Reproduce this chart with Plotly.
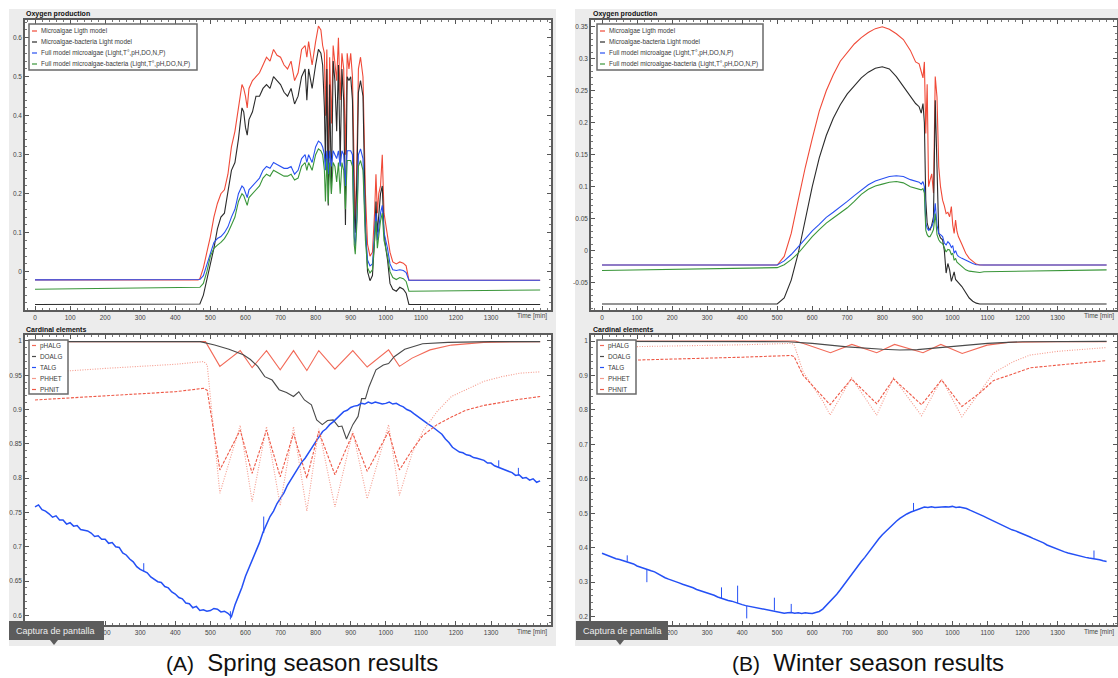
import plotly.graph_objects as go

W, H = 1118, 678

# ---------------- Spring: oxygen production ----------------
spring_o2_t = [
    0, 465, 470, 480, 490, 500, 510, 520, 530, 540,
    550, 560, 570, 580, 590, 595, 600, 605, 610, 620,
    630, 640, 650, 660, 670, 680, 690, 700, 710, 720,
    730, 740, 750, 760, 770, 775, 780, 790, 800, 808,
    815, 820, 825, 828, 832, 836, 840, 845, 850, 855,
    860, 865, 870, 875, 880, 885, 890, 895, 900, 905,
    910, 913, 918, 922, 928, 935, 942, 948, 955, 962,
    968, 972, 976, 980, 985, 990, 995, 1000, 1005, 1012,
    1020, 1030, 1040, 1050, 1058, 1066, 1440,
]
spring_o2_light = [
    -0.021, -0.021, -0.018, 0.01, 0.05, 0.09, 0.14, 0.175, 0.2, 0.21,
    0.25, 0.32, 0.36, 0.42, 0.48, 0.47, 0.45, 0.42, 0.47, 0.49,
    0.5, 0.51, 0.53, 0.55, 0.54, 0.57, 0.555, 0.55, 0.53, 0.52,
    0.54, 0.49, 0.51, 0.57, 0.58, 0.55, 0.59, 0.53, 0.59, 0.63,
    0.62, 0.58, 0.56, 0.40, 0.57, 0.25, 0.55, 0.38, 0.58, 0.53,
    0.49, 0.60, 0.44, 0.56, 0.52, 0.30, 0.56, 0.52, 0.56, 0.50,
    0.20, 0.11, 0.30, 0.52, 0.55, 0.50, 0.20, 0.07, 0.04, 0.05,
    0.15, 0.25, 0.15, 0.20, 0.22, 0.30, 0.15, 0.12, 0.10, 0.05,
    0.025, 0.02, 0.025, 0.022, 0.015, -0.022, -0.022,
]
spring_o2_light_bact = [
    -0.084, -0.084, -0.083, -0.06, -0.02, 0.02, 0.06, 0.11, 0.14, 0.15,
    0.21, 0.26, 0.28, 0.34, 0.42, 0.41, 0.37, 0.35, 0.39, 0.41,
    0.45, 0.45, 0.47, 0.48, 0.47, 0.50, 0.49, 0.48, 0.46, 0.45,
    0.47, 0.43, 0.45, 0.50, 0.52, 0.44, 0.52, 0.47, 0.53, 0.57,
    0.56, 0.53, 0.42, 0.28, 0.52, 0.17, 0.48, 0.20, 0.54, 0.49,
    0.36, 0.53, 0.28, 0.52, 0.44, 0.12, 0.50, 0.49, 0.50, 0.44,
    0.15, 0.10, 0.25, 0.46, 0.49, 0.45, 0.12, 0.0, -0.023, -0.01,
    0.08, 0.18, 0.10, 0.15, 0.20, 0.22, 0.10, 0.06, 0.03, -0.03,
    -0.045, -0.05, -0.04, -0.045, -0.055, -0.084, -0.084,
]
spring_o2_full = [
    -0.021, -0.021, -0.02, -0.01, 0.02, 0.05, 0.075, 0.085, 0.09, 0.10,
    0.115, 0.14, 0.16, 0.20, 0.22, 0.215, 0.20, 0.19, 0.21, 0.22,
    0.23, 0.24, 0.26, 0.27, 0.265, 0.28, 0.275, 0.27, 0.265, 0.265,
    0.27, 0.25, 0.26, 0.29, 0.30, 0.28, 0.30, 0.28, 0.32, 0.335,
    0.33, 0.32, 0.30, 0.26, 0.31, 0.25, 0.31, 0.27, 0.31, 0.30,
    0.29, 0.31, 0.27, 0.31, 0.30, 0.22, 0.31, 0.31, 0.31, 0.30,
    0.09, 0.065, 0.15, 0.30, 0.315, 0.29, 0.10, 0.03, 0.015, 0.02,
    0.09, 0.15, 0.08, 0.12, 0.15, 0.17, 0.10, 0.08, 0.06, 0.02,
    0.005, 0.003, 0.005, 0.003, -0.002, -0.022, -0.022,
]
spring_o2_full_bact = [
    -0.045, -0.041, -0.04, -0.03, 0.0, 0.04, 0.06, 0.068, 0.075, 0.085,
    0.10, 0.12, 0.14, 0.18, 0.20, 0.195, 0.18, 0.17, 0.19, 0.20,
    0.21, 0.22, 0.24, 0.25, 0.245, 0.26, 0.255, 0.25, 0.245, 0.245,
    0.25, 0.235, 0.24, 0.27, 0.28, 0.26, 0.28, 0.26, 0.30, 0.315,
    0.31, 0.30, 0.26, 0.18, 0.29, 0.175, 0.28, 0.20, 0.28, 0.27,
    0.23, 0.28, 0.20, 0.28, 0.26, 0.16, 0.285, 0.285, 0.285, 0.27,
    0.07, 0.045, 0.13, 0.27, 0.285, 0.26, 0.08, 0.01, -0.003, 0.005,
    0.07, 0.13, 0.06, 0.10, 0.13, 0.15, 0.08, 0.06, 0.04, 0.0,
    -0.015, -0.02, -0.015, -0.018, -0.025, -0.05, -0.047,
]

# ---------------- Winter: oxygen production ----------------
winter_o2_t = [
    0, 500, 520, 540, 560, 580, 600, 620, 640, 660,
    680, 700, 720, 740, 760, 780, 800, 820, 840, 860,
    880, 895, 905, 911, 916, 920, 924, 928, 932, 936,
    941, 946, 951, 956, 961, 966, 972, 977, 982, 987,
    992, 997, 1001, 1005, 1009, 1013, 1017, 1027, 1038, 1048,
    1058, 1068, 1078, 1090, 1440,
]
winter_o2_light = [
    -0.0224, -0.0224, -0.009, 0.027, 0.079, 0.13, 0.175, 0.218, 0.25, 0.275,
    0.296, 0.31, 0.323, 0.333, 0.341, 0.347, 0.35, 0.346, 0.339, 0.33,
    0.313, 0.295, 0.292, 0.28, 0.27, 0.295, 0.183, 0.26, 0.10, 0.11,
    0.12, 0.09, 0.272, 0.24, 0.131, 0.10, 0.079, 0.07, 0.058, 0.06,
    0.053, 0.069, 0.04, 0.027, 0.048, 0.03, 0.022, 0.01, -0.004, -0.012,
    -0.017, -0.021, -0.0224, -0.0224, -0.0224,
]
winter_o2_light_bact = [
    -0.0833, -0.0833, -0.074, -0.046, -0.004, 0.05, 0.10, 0.145, 0.18, 0.207,
    0.228, 0.245, 0.258, 0.27, 0.279, 0.285, 0.2875, 0.284, 0.272, 0.256,
    0.24, 0.23, 0.225, 0.215, 0.23, 0.20, 0.079, 0.043, 0.035, 0.032,
    0.04, 0.053, 0.235, 0.11, 0.027, 0.02, 0.017, 0.0, -0.035, -0.02,
    -0.03, -0.048, -0.04, -0.033, -0.045, -0.048, -0.05, -0.056, -0.066, -0.074,
    -0.079, -0.082, -0.0833, -0.0833, -0.0833,
]
winter_o2_full = [
    -0.0224, -0.0224, -0.016, -0.006, 0.006, 0.018, 0.031, 0.041, 0.052, 0.060,
    0.068, 0.077, 0.086, 0.095, 0.103, 0.109, 0.113, 0.116, 0.117, 0.116,
    0.111, 0.108, 0.107, 0.104, 0.108, 0.10, 0.043, 0.035, 0.032, 0.035,
    0.0375, 0.045, 0.074, 0.04, 0.027, 0.025, 0.022, 0.012, 0.009, 0.014,
    0.011, 0.005, 0.008, -0.004, 0.0, -0.006, -0.009, -0.012, -0.015, -0.018,
    -0.02, -0.022, -0.0224, -0.0224, -0.0224,
]
winter_o2_full_bact = [
    -0.031, -0.0265, -0.022, -0.014, -0.004, 0.009, 0.022, 0.033, 0.043, 0.051,
    0.059, 0.067, 0.077, 0.088, 0.096, 0.101, 0.104, 0.107, 0.108, 0.106,
    0.10, 0.098, 0.097, 0.095, 0.097, 0.09, 0.032, 0.025, 0.022, 0.022,
    0.027, 0.033, 0.058, 0.025, 0.017, 0.013, 0.011, 0.003, -0.002, 0.002,
    0.001, -0.006, -0.004, -0.015, -0.012, -0.018, -0.02, -0.025, -0.03, -0.032,
    -0.033, -0.034, -0.034, -0.033, -0.030,
]

# ---------------- Spring: cardinal elements ----------------
spring_phalg_t = [0, 486, 527, 585, 619, 660, 699, 737, 775, 809,
                  855, 906, 947, 1008, 1039, 1075, 1126, 1187, 1279, 1440]
spring_phalg = [0.999, 0.999, 0.963, 0.986, 0.961, 0.986, 0.958, 0.986, 0.957, 0.986,
                0.959, 0.986, 0.962, 0.987, 0.963, 0.975, 0.987, 0.994, 0.998, 0.999]

spring_doalg_t = [0, 471, 512, 553, 594, 614, 635, 655, 676, 696,
                  717, 737, 752, 768, 788, 803, 819, 834, 850, 865,
                  875, 888, 906, 921, 931, 942, 952, 972, 993, 1008,
                  1024, 1054, 1105, 1177, 1300, 1440]
spring_doalg = [0.999, 0.999, 0.994, 0.988, 0.98, 0.973, 0.963, 0.948, 0.943, 0.929,
                0.925, 0.919, 0.926, 0.914, 0.907, 0.885, 0.878, 0.884, 0.885, 0.875,
                0.876, 0.857, 0.878, 0.89, 0.916, 0.916, 0.933, 0.958, 0.965, 0.967,
                0.977, 0.988, 0.996, 0.998, 0.999, 0.999]

talg_t = list(range(0, 1441, 10))
spring_talg = [
    0.758, 0.761, 0.754, 0.752, 0.748, 0.743, 0.745, 0.739, 0.739, 0.733,
    0.735, 0.730, 0.731, 0.725, 0.724, 0.723, 0.720, 0.715, 0.716, 0.711,
    0.711, 0.705, 0.706, 0.700, 0.699, 0.691, 0.688, 0.682, 0.678, 0.671,
    0.667, 0.664, 0.662, 0.656, 0.653, 0.649, 0.648, 0.642, 0.640, 0.634,
    0.631, 0.626, 0.624, 0.618, 0.617, 0.611, 0.613, 0.607, 0.608, 0.606,
    0.607, 0.610, 0.609, 0.605, 0.606, 0.603, 0.598, 0.615, 0.628, 0.641,
    0.657, 0.669, 0.683, 0.693, 0.706, 0.721, 0.733, 0.744, 0.752, 0.763,
    0.771, 0.779, 0.790, 0.798, 0.808, 0.814, 0.823, 0.829, 0.838, 0.845,
    0.853, 0.860, 0.868, 0.872, 0.878, 0.882, 0.887, 0.893, 0.897, 0.899,
    0.903, 0.905, 0.906, 0.909, 0.908, 0.911, 0.909, 0.911, 0.910, 0.908,
    0.909, 0.911, 0.908, 0.909, 0.906, 0.904, 0.900, 0.898, 0.894, 0.890,
    0.887, 0.882, 0.879, 0.876, 0.872, 0.867, 0.864, 0.857, 0.852, 0.845,
    0.842, 0.838, 0.837, 0.834, 0.833, 0.830, 0.829, 0.828, 0.826, 0.822,
    0.822, 0.818, 0.816, 0.813, 0.812, 0.809, 0.808, 0.804, 0.805, 0.800,
    0.801, 0.797, 0.799, 0.794, 0.796,
]
spring_talg_spike_t = [310, 557, 652, 1322, 1378]
spring_talg_spike_lo = [0.664, 0.594, 0.72, 0.815, 0.804]
spring_talg_spike_hi = [0.676, 0.606, 0.744, 0.826, 0.815]

spring_ph_t = [0, 100, 200, 300, 400, 481, 491, 527, 585, 619,
               660, 699, 737, 775, 809, 855, 906, 947, 1008, 1039,
               1075, 1105, 1146, 1187, 1228, 1279, 1331, 1382, 1440]
spring_phhet = [0.953, 0.957, 0.96, 0.963, 0.966, 0.97, 0.965, 0.778, 0.877, 0.766,
                0.875, 0.76, 0.875, 0.752, 0.872, 0.758, 0.868, 0.77, 0.878, 0.775,
                0.836, 0.868, 0.897, 0.919, 0.929, 0.941, 0.948, 0.953, 0.955]
spring_phnit = [0.914, 0.917, 0.92, 0.923, 0.926, 0.931, 0.928, 0.812, 0.87, 0.807,
                0.87, 0.802, 0.865, 0.80, 0.868, 0.805, 0.865, 0.81, 0.868, 0.812,
                0.841, 0.862, 0.878, 0.889, 0.899, 0.906, 0.911, 0.915, 0.919]

# ---------------- Winter: cardinal elements ----------------
winter_phalg_t = [0, 530, 551, 575, 652, 713, 784, 835, 916, 967,
                  1028, 1099, 1160, 1300, 1440]
winter_phalg = [0.999, 0.999, 1.0, 0.993, 0.966, 0.99, 0.966, 0.99, 0.966, 0.99,
                0.964, 0.988, 0.996, 0.998, 0.998]

winter_doalg_t = [0, 530, 600, 700, 800, 850, 900, 1000, 1100, 1200, 1440]
winter_doalg = [0.999, 0.998, 0.993, 0.983, 0.976, 0.974, 0.975, 0.984, 0.993, 0.998, 0.999]

winter_talg = [
    0.384, 0.380, 0.376, 0.371, 0.368, 0.366, 0.363, 0.360, 0.357, 0.353,
    0.347, 0.343, 0.340, 0.337, 0.333, 0.330, 0.324, 0.318, 0.313, 0.309,
    0.306, 0.302, 0.298, 0.294, 0.291, 0.287, 0.284, 0.279, 0.276, 0.272,
    0.270, 0.267, 0.262, 0.257, 0.253, 0.250, 0.247, 0.245, 0.241, 0.238,
    0.235, 0.232, 0.230, 0.228, 0.226, 0.224, 0.222, 0.220, 0.219, 0.218,
    0.216, 0.213, 0.210, 0.211, 0.212, 0.210, 0.211, 0.209, 0.211, 0.210,
    0.209, 0.212, 0.215, 0.222, 0.232, 0.242, 0.253, 0.265, 0.278, 0.292,
    0.305, 0.318, 0.331, 0.345, 0.360, 0.372, 0.386, 0.399, 0.412, 0.426,
    0.438, 0.448, 0.458, 0.468, 0.477, 0.485, 0.492, 0.498, 0.503, 0.507,
    0.511, 0.516, 0.518, 0.517, 0.519, 0.517, 0.518, 0.517, 0.519, 0.518,
    0.520, 0.517, 0.518, 0.516, 0.514, 0.509, 0.505, 0.500, 0.496, 0.491,
    0.486, 0.481, 0.476, 0.471, 0.466, 0.461, 0.456, 0.452, 0.449, 0.445,
    0.442, 0.437, 0.432, 0.427, 0.423, 0.418, 0.414, 0.408, 0.404, 0.399,
    0.394, 0.391, 0.388, 0.385, 0.382, 0.379, 0.376, 0.374, 0.372, 0.370,
    0.369, 0.367, 0.365, 0.362, 0.360,
]
winter_talg_spike_t = [72, 128, 341, 387, 413, 492, 540, 889, 1404]
winter_talg_spike_lo = [0.36, 0.30, 0.253, 0.239, 0.195, 0.218, 0.211, 0.507, 0.369]
winter_talg_spike_hi = [0.378, 0.338, 0.285, 0.29, 0.232, 0.255, 0.237, 0.53, 0.392]

winter_ph_t = [0, 200, 400, 540, 548, 574, 631, 651, 712, 784,
               832, 912, 969, 1027, 1079, 1117, 1174, 1221, 1300, 1440]
winter_phhet = [0.982, 0.985, 0.989, 0.993, 0.99, 0.91, 0.824, 0.785, 0.893, 0.785,
                0.893, 0.783, 0.89, 0.78, 0.853, 0.907, 0.94, 0.959, 0.97, 0.981]
winter_phnit = [0.942, 0.947, 0.953, 0.958, 0.955, 0.90, 0.835, 0.815, 0.89, 0.818,
                0.89, 0.815, 0.887, 0.81, 0.85, 0.885, 0.905, 0.922, 0.93, 0.943]

# ---------------- labels / ticks ----------------
o2_names = ["Microalgae Ligth model", "Microalgae-bacteria Light model",
            "Full model microalgae (Light,T°,pH,DO,N,P)",
            "Full model microalgae-bacteria (Light,T°,pH,DO,N,P)"]
card_names = ["pHALG", "DOALG", "TALG", "PHHET", "PHNIT"]
x_tickvals = [0, 100, 200, 300, 400, 500, 600, 700, 800, 900, 1000, 1100, 1200, 1300]
x_ticktext = ["0", "100", "200", "300", "400", "500", "600", "700", "800", "900",
              "1000", "1100", "1200", "1300"]
# bottom axes: the first two labels sit under the screenshot tooltip
x_ticktext_bottom = ["", "", "200", "300", "400", "500", "600", "700", "800", "900",
                     "1000", "1100", "1200", "1300"]
spring_o2_yvals = [0, 0.1, 0.2, 0.3, 0.4, 0.5, 0.6]
spring_o2_ytext = ["0", "0.1", "0.2", "0.3", "0.4", "0.5", "0.6"]
winter_o2_yvals = [-0.05, 0, 0.05, 0.1, 0.15, 0.2, 0.25, 0.3, 0.35]
winter_o2_ytext = ["-0.05", "0", "0.05", "0.1", "0.15", "0.2", "0.25", "0.3", "0.35"]
spring_card_yvals = [0.6, 0.65, 0.7, 0.75, 0.8, 0.85, 0.9, 0.95, 1.0]
spring_card_ytext = ["0.6", "0.65", "0.7", "0.75", "0.8", "0.85", "0.9", "0.95", "1"]
winter_card_yvals = [0.2, 0.3, 0.4, 0.5, 0.6, 0.7, 0.8, 0.9, 1.0]
winter_card_ytext = ["0.2", "0.3", "0.4", "0.5", "0.6", "0.7", "0.8", "0.9", "1"]

# ---------------- styles ----------------
C_RED = "#f04a38"
C_BLACK = "#2b2b2b"
C_BLUE = "#2850f2"
C_GREEN = "#3a963a"
C_PHALG = "#f26a58"
C_DO = "#4a4a4a"
C_TALG = "#2450f5"
C_PHHET = "#f59a8c"
C_PHNIT = "#ee5a48"
FONT = "Liberation Sans, Arial, sans-serif"

o2_styles = [(C_RED, "solid"), (C_BLACK, "solid"), (C_BLUE, "solid"), (C_GREEN, "solid")]
card_styles = [(C_PHALG, "solid"), (C_DO, "solid"), (C_TALG, "solid"),
               (C_PHHET, "1px,1.5px"), (C_PHNIT, "3px,1.5px")]


def px(x):
    return x / W


def py(y):
    return 1 - y / H


fig = go.Figure()


def line(x, y, color, dash, xa, ya, width=1.1):
    fig.add_trace(go.Scatter(x=x, y=y, mode="lines", xaxis=xa, yaxis=ya,
                             line=dict(color=color, width=width, dash=dash),
                             hoverinfo="skip", showlegend=False))


def spikes(ts, lo, hi, color, xa, ya):
    xs, ys = [], []
    for t, a, b in zip(ts, lo, hi):
        xs += [t, t, None]
        ys += [a, b, None]
    line(xs, ys, color, "solid", xa, ya, width=1.0)


for vals, (c, d) in zip([spring_o2_light, spring_o2_light_bact, spring_o2_full, spring_o2_full_bact], o2_styles):
    line(spring_o2_t, vals, c, d, "x", "y")
for vals, (c, d) in zip([winter_o2_light, winter_o2_light_bact, winter_o2_full, winter_o2_full_bact], o2_styles):
    line(winter_o2_t, vals, c, d, "x3", "y3")

line(spring_phalg_t, spring_phalg, C_PHALG, "solid", "x2", "y2")
line(spring_doalg_t, spring_doalg, C_DO, "solid", "x2", "y2")
line(talg_t, spring_talg, C_TALG, "solid", "x2", "y2", width=1.5)
spikes(spring_talg_spike_t, spring_talg_spike_lo, spring_talg_spike_hi, C_TALG, "x2", "y2")
line(spring_ph_t, spring_phhet, C_PHHET, card_styles[3][1], "x2", "y2")
line(spring_ph_t, spring_phnit, C_PHNIT, card_styles[4][1], "x2", "y2")

line(winter_phalg_t, winter_phalg, C_PHALG, "solid", "x4", "y4")
line(winter_doalg_t, winter_doalg, C_DO, "solid", "x4", "y4")
line(talg_t, winter_talg, C_TALG, "solid", "x4", "y4", width=1.5)
spikes(winter_talg_spike_t, winter_talg_spike_lo, winter_talg_spike_hi, C_TALG, "x4", "y4")
line(winter_ph_t, winter_phhet, C_PHHET, card_styles[3][1], "x4", "y4")
line(winter_ph_t, winter_phnit, C_PHNIT, card_styles[4][1], "x4", "y4")


def axis(domain, rng, tickvals, ticktext, minor_dtick, anchor):
    return dict(domain=domain, range=rng, anchor=anchor,
                tickmode="array", tickvals=tickvals, ticktext=ticktext,
                ticks="inside", ticklen=4, tickwidth=1, tickcolor="#555",
                showline=True, linecolor="#5c5c5c", linewidth=1.5, mirror="allticks",
                showgrid=False, zeroline=False, fixedrange=True,
                tickfont=dict(size=6.5, color="#444", family=FONT),
                minor=dict(ticks="inside", ticklen=2, tickcolor="#777",
                           tickmode="linear", tick0=0, dtick=minor_dtick, showgrid=False))


LX = [px(25), px(551)]
RX = [px(591), px(1117)]
TY = [py(310), py(20)]
BY = [py(625), py(335)]

fig.update_layout(
    width=W, height=H, autosize=False,
    margin=dict(l=0, r=0, t=0, b=0, pad=0),
    paper_bgcolor="white", plot_bgcolor="rgba(0,0,0,0)",
    showlegend=False,
    xaxis=axis(LX, [-28.5, 1471], x_tickvals, x_ticktext, 20, "y"),
    yaxis=axis(TY, [-0.0982, 0.6454], spring_o2_yvals, spring_o2_ytext, 0.02, "x"),
    xaxis2=axis(LX, [-28.5, 1471], x_tickvals, x_ticktext_bottom, 20, "y2"),
    yaxis2=axis(BY, [0.5859, 1.0087], spring_card_yvals, spring_card_ytext, 0.01, "x2"),
    xaxis3=axis(RX, [-31.4, 1469.7], x_tickvals, x_ticktext, 20, "y3"),
    yaxis3=axis(TY, [-0.0927, 0.3605], winter_o2_yvals, winter_o2_ytext, 0.01, "x3"),
    xaxis4=axis(RX, [-31.4, 1469.7], x_tickvals, x_ticktext_bottom, 20, "y4"),
    yaxis4=axis(BY, [0.1758, 1.0174], winter_card_yvals, winter_card_ytext, 0.02, "x4"),
)

shapes = []
annotations = []

for (x0, x1) in [(9, 556), (575, 1118)]:
    shapes.append(dict(type="rect", xref="paper", yref="paper", x0=px(x0), x1=px(x1),
                       y0=py(646), y1=py(9), fillcolor="#ececec", line=dict(width=0), layer="below"))
for (x0, x1) in [(25, 551), (591, 1117)]:
    for (y0, y1) in [(20, 310), (335, 625)]:
        shapes.append(dict(type="rect", xref="paper", yref="paper", x0=px(x0), x1=px(x1),
                           y0=py(y1), y1=py(y0), fillcolor="white", line=dict(width=0), layer="below"))

for x0 in [24, 591]:
    for y0, title in [(14, "Oxygen production"), (329, "Cardinal elements")]:
        annotations.append(dict(text="<b>%s</b>" % title, xref="paper", yref="paper",
                                x=px(x0), y=py(y0), xanchor="left", yanchor="middle",
                                showarrow=False, font=dict(size=7, color="#111", family=FONT)))

for xr in [549, 1116]:
    for yr in [316, 632]:
        annotations.append(dict(text="Time [min]", xref="paper", yref="paper",
                                x=px(xr), y=py(yr), xanchor="right", yanchor="middle",
                                showarrow=False, font=dict(size=6.5, color="#444", family=FONT)))


def legend(x0, y0, x1, y1, rows, names, styles, sx0, sx1, tx):
    shapes.append(dict(type="rect", xref="paper", yref="paper", x0=px(x0), x1=px(x1),
                       y0=py(y1), y1=py(y0), fillcolor="white",
                       line=dict(color="#6a6a6a", width=1.5), layer="above"))
    for ry, name, (c, d) in zip(rows, names, styles):
        shapes.append(dict(type="line", xref="paper", yref="paper", x0=px(sx0), x1=px(sx1),
                           y0=py(ry), y1=py(ry), line=dict(color=c, width=1.2), layer="above"))
        annotations.append(dict(text=name, xref="paper", yref="paper", x=px(tx), y=py(ry),
                                xanchor="left", yanchor="middle", showarrow=False,
                                font=dict(size=6.4, color="#3a3a3a", family=FONT)))


o2_rows = [31, 42, 53, 64]
card_rows = [345.5, 356.5, 367.5, 378.5, 389.5]
legend(29, 24, 197, 70, o2_rows, o2_names, o2_styles, 32, 37, 39)
legend(597, 24, 763, 70, o2_rows, o2_names, o2_styles, 600, 605, 607)
legend(29, 340, 68, 394, card_rows, card_names, card_styles, 32, 36, 38)
legend(597, 340, 636, 394, card_rows, card_names, card_styles, 600, 604, 606)

for (x0, x1, xp) in [(9, 104, 54), (576, 668, 620)]:
    shapes.append(dict(type="rect", xref="paper", yref="paper", x0=px(x0), x1=px(x1),
                       y0=py(640), y1=py(621), fillcolor="#5c5c5c", line=dict(width=0), layer="above"))
    shapes.append(dict(type="path", xref="paper", yref="paper",
                       path="M %f %f L %f %f L %f %f Z" % (px(xp - 4), py(640), px(xp + 4), py(640), px(xp), py(645)),
                       fillcolor="#5c5c5c", line=dict(width=0), layer="above"))
    annotations.append(dict(text="Captura de pantalla", xref="paper", yref="paper",
                            x=px(x0 + 5), y=py(630.5), xanchor="left", yanchor="middle",
                            showarrow=False, font=dict(size=9, color="#eeeeee", family=FONT)))

for xc, lab, txt in [(302, "(A)", "Spring season results"), (868, "(B)", "Winter season results")]:
    annotations.append(dict(text="<span style='font-size:21px'>%s</span>\u00a0\u00a0%s" % (lab, txt),
                            xref="paper", yref="paper", x=px(xc), y=py(662),
                            xanchor="center", yanchor="middle", showarrow=False, borderpad=0,
                            font=dict(size=24, color="#111", family=FONT)))

fig.update_layout(shapes=shapes, annotations=annotations)
fig.write_html("out.html")
